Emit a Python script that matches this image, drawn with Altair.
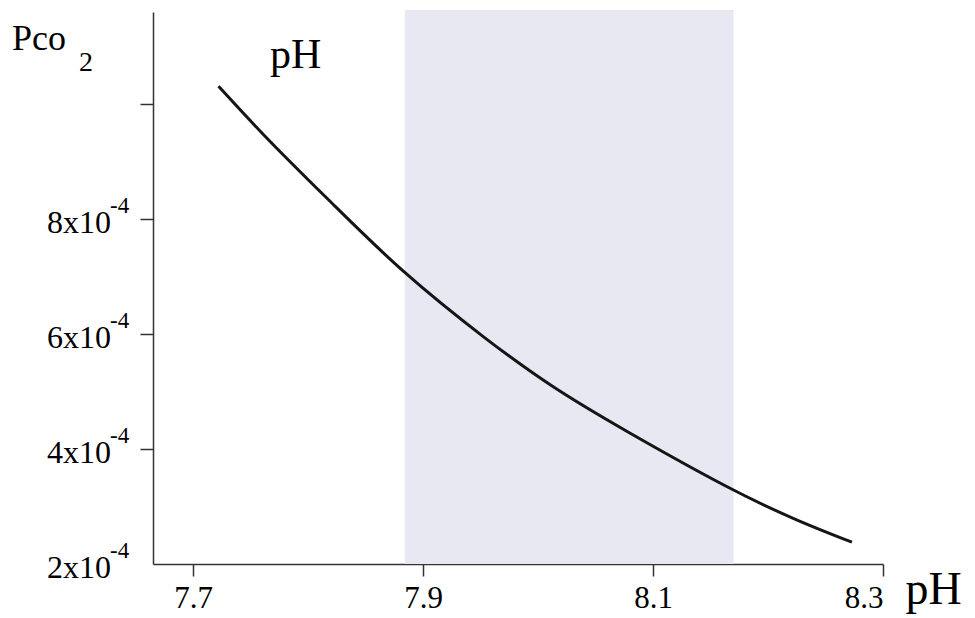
import altair as alt
import pandas as pd

# Curve (pH vs Pco2 in units of 1e-4)
ph = [7.722, 7.764, 7.822, 7.880, 7.956, 8.013, 8.071, 8.170, 8.228, 8.273]
pco2 = [10.31, 9.39, 8.25, 7.10, 5.88, 5.06, 4.37, 3.26, 2.73, 2.38]

# Shaded pH band
band_lo = [7.884]
band_hi = [8.170]

x_ticks = [7.7, 7.9, 8.1, 8.3]
y_tick_marks = [4, 6, 8, 10]
y_label_vals = [2, 4, 6, 8]
y_label_base = ["2x10", "4x10", "6x10", "8x10"]
y_label_exp = ["-4", "-4", "-4", "-4"]

X_DOM = [7.665, 8.3]
Y_DOM = [2, 11.6]
FONT = "Liberation Serif"
W, H = 730, 552

curve = pd.DataFrame({"pH": ph, "pco2": pco2})
band = pd.DataFrame({"lo": band_lo, "hi": band_hi})
ylab = pd.DataFrame({"v": y_label_vals, "base": y_label_base, "exp": y_label_exp})

xs = alt.Scale(domain=X_DOM, nice=False, zero=False)
ys = alt.Scale(domain=Y_DOM, nice=False, zero=False)

xaxis = alt.Axis(values=x_ticks, format=".1f", grid=False, domainColor="#333",
                 domainWidth=1.5, tickColor="#333", tickWidth=1.5, tickSize=12,
                 labelFont=FONT, labelFontSize=31, labelColor="black", labelPadding=7,
                 title="pH", titleFont=FONT, titleFontSize=46, titleFontWeight="normal",
                 titleColor="black", titleX=752, titleY=39, titleAlign="left",
                 titleBaseline="alphabetic", titleAnchor="start")
yaxis = alt.Axis(values=y_tick_marks, grid=False, labels=False, domainColor="#333",
                 domainWidth=1.5, tickColor="#333", tickWidth=1.5, tickSize=13,
                 title=None)

rect = alt.Chart(band).mark_rect(color="#e7e8f1").encode(
    x=alt.X("lo:Q", scale=xs, axis=xaxis),
    x2="hi:Q",
    y=alt.value(-2),
    y2=alt.value(H),
)

line = alt.Chart(curve).mark_line(color="#151515", strokeWidth=3, interpolate="basis").encode(
    x=alt.X("pH:Q", scale=xs),
    y=alt.Y("pco2:Q", scale=ys, axis=yaxis),
)

lab_base = alt.Chart(ylab).mark_text(font=FONT, fontSize=32, align="right",
                                     baseline="middle", color="black", dy=4).encode(
    x=alt.value(-42),
    y=alt.Y("v:Q", scale=ys),
    text="base:N",
)
lab_exp = alt.Chart(ylab).mark_text(font=FONT, fontSize=23, align="left",
                                    baseline="middle", color="black", dy=-13).encode(
    x=alt.value(-43),
    y=alt.Y("v:Q", scale=ys),
    text="exp:N",
)

ann = pd.DataFrame({"t": ["pH"]})
inner_ph = alt.Chart(ann).mark_text(font=FONT, fontSize=42, align="left",
                                    baseline="alphabetic", color="black").encode(
    x=alt.value(117), y=alt.value(56), text="t:N")

ttl = pd.DataFrame({"t": ["Pco"], "s": ["2"]})
ytitle = alt.Chart(ttl).mark_text(font=FONT, fontSize=36, align="left",
                                  baseline="alphabetic", color="black").encode(
    x=alt.value(-141), y=alt.value(38), text="t:N")
ysub = alt.Chart(ttl).mark_text(font=FONT, fontSize=28, align="left",
                                baseline="alphabetic", color="black").encode(
    x=alt.value(-74), y=alt.value(59), text="s:N")

chart = alt.layer(rect, line, lab_base, lab_exp, inner_ph, ytitle, ysub).properties(
    width=W, height=H,
    padding={"left": 153, "top": 12, "right": 92, "bottom": 54},
    autosize=alt.AutoSizeParams(type="none"),
    background="white",
).configure_view(strokeWidth=0)

chart.save("out.html", embed_options={"renderer": "svg", "actions": False})
